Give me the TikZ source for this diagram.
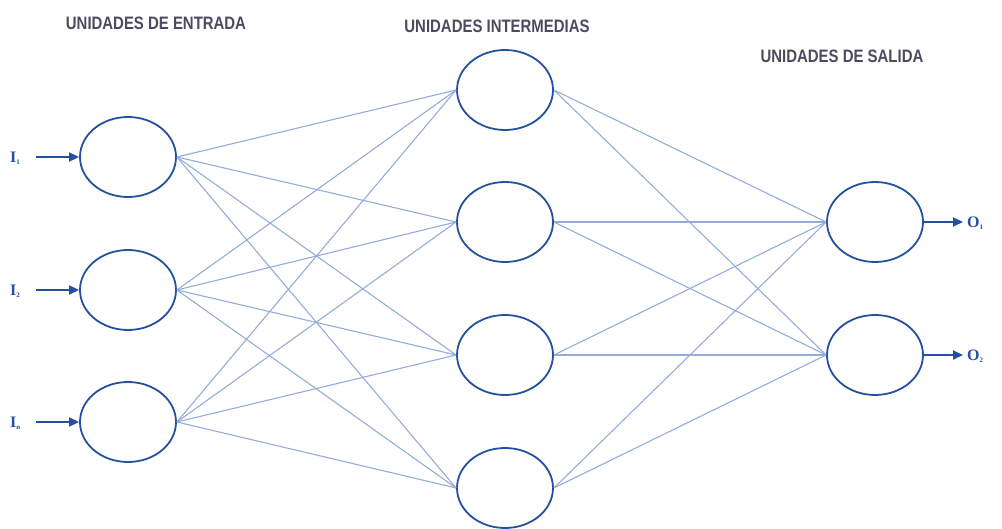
\documentclass[tikz,border=0pt]{standalone}
\usepackage{fontspec}
\setmainfont{Liberation Serif}
\newfontfamily\hdrfont[FakeStretch=0.83]{Liberation Sans}
\usetikzlibrary{arrows.meta,shapes.geometric}
\definecolor{nodeblue}{HTML}{24519E}
\definecolor{linkblue}{HTML}{95ACDA}
\definecolor{hdrgray}{HTML}{4C4A5E}
\tikzset{
  unit/.style={ellipse, draw=nodeblue, line width=1.8pt, minimum width=96pt, minimum height=80pt, inner sep=0pt},
  link/.style={draw=linkblue, line width=1.1pt},
  ioarrow/.style={draw=nodeblue, line width=1.8pt, -{Triangle[length=10pt,width=9pt]}},
  iolabel/.style={text=nodeblue, font=\fontsize{16}{16}\selectfont\bfseries, inner sep=0pt},
  header/.style={text=hdrgray, font=\hdrfont\fontsize{18}{18}\selectfont\bfseries, inner sep=0pt}
}
\begin{document}
\begin{tikzpicture}[x=1pt,y=-1pt]
\useasboundingbox (0,0) rectangle (1002,529);
% input units
\node[unit] (i1) at (128,157) {};
\node[unit] (i2) at (128,290) {};
\node[unit] (i3) at (128,422) {};
% hidden units
\node[unit] (h1) at (505,90) {};
\node[unit] (h2) at (505,222) {};
\node[unit] (h3) at (505,355) {};
\node[unit] (h4) at (505,488) {};
% output units
\node[unit] (o1) at (875,222) {};
\node[unit] (o2) at (875,355) {};
% links
\foreach \a in {i1,i2,i3}{
  \foreach \b in {h1,h2,h3,h4}{
    \draw[link] (\a.east) -- (\b.west);
  }
}
\foreach \a in {h1,h2,h3,h4}{
  \foreach \b in {o1,o2}{
    \draw[link] (\a.east) -- (\b.west);
  }
}
% input labels and arrows
\node[iolabel, anchor=west] (l1) at (10,158) {I\raisebox{-2pt}{\scriptsize 1}};
\node[iolabel, anchor=west] (l2) at (10,291) {I\raisebox{-2pt}{\scriptsize 2}};
\node[iolabel, anchor=west] (l3) at (10,423) {I\raisebox{-2pt}{\scriptsize n}};
\coordinate (s1) at (36,157);
\coordinate (s2) at (36,290);
\coordinate (s3) at (36,422);
\draw[ioarrow] (s1) -- (i1.west);
\draw[ioarrow] (s2) -- (i2.west);
\draw[ioarrow] (s3) -- (i3.west);
% output arrows and labels
\coordinate (e1) at (963,222);
\coordinate (e2) at (963,355);
\draw[ioarrow] (o1.east) -- (e1);
\draw[ioarrow] (o2.east) -- (e2);
\node[iolabel, anchor=west] (r1) at (967,223) {O\raisebox{-2pt}{\scriptsize 1}};
\node[iolabel, anchor=west] (r2) at (967,356) {O\raisebox{-2pt}{\scriptsize 2}};
% headers
\node[header] (t1) at (156,23) {UNIDADES DE ENTRADA};
\node[header] (t2) at (497,26) {UNIDADES INTERMEDIAS};
\node[header] (t3) at (842,56) {UNIDADES DE SALIDA};
\end{tikzpicture}
\end{document}
